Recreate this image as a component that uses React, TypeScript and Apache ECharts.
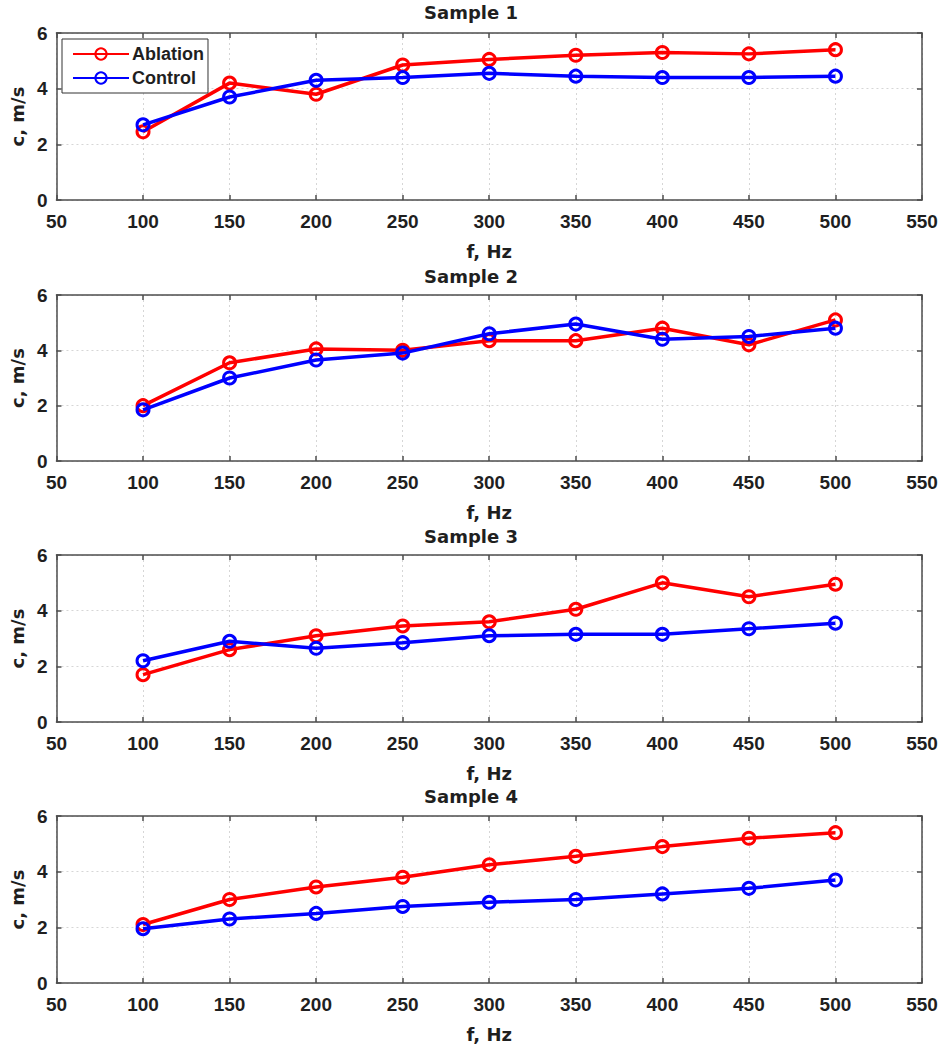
import React, { useEffect, useRef } from "react";
import * as echarts from "echarts";

const freqs = [100, 150, 200, 250, 300, 350, 400, 450, 500];
const sampleTitles = ["Sample 1", "Sample 2", "Sample 3", "Sample 4"];
const ablation1 = [2.45, 4.2, 3.8, 4.85, 5.05, 5.2, 5.3, 5.25, 5.4];
const control1 = [2.7, 3.7, 4.3, 4.4, 4.55, 4.45, 4.4, 4.4, 4.45];
const ablation2 = [2.0, 3.55, 4.05, 4.0, 4.35, 4.35, 4.8, 4.2, 5.1];
const control2 = [1.85, 3.0, 3.65, 3.9, 4.6, 4.95, 4.4, 4.5, 4.8];
const ablation3 = [1.7, 2.6, 3.1, 3.45, 3.6, 4.05, 5.0, 4.5, 4.95];
const control3 = [2.2, 2.9, 2.65, 2.85, 3.1, 3.15, 3.15, 3.35, 3.55];
const ablation4 = [2.1, 3.0, 3.45, 3.8, 4.25, 4.55, 4.9, 5.2, 5.4];
const control4 = [1.95, 2.3, 2.5, 2.75, 2.9, 3.0, 3.2, 3.4, 3.7];
const ablationSets = [ablation1, ablation2, ablation3, ablation4];
const controlSets = [control1, control2, control3, control4];
const xLabelName = "f, Hz";
const yLabelName = "c, m/s";
const seriesNames = ["Ablation", "Control"];

const gridTops = [33, 295, 555, 816];
const gridHeights = [167, 166, 167, 167];
const titleTops = [3, 267, 527, 787];

const AXIS_COLOR = "#4d4d4d";
const TEXT_COLOR = "#1f1f1f";
const TICK_FONT = "'Liberation Sans', Arial, sans-serif";
const NAME_FONT = "'DejaVu Sans', sans-serif";

export default function App() {
  const ref = useRef<HTMLDivElement>(null);
  useEffect(() => {
    if (!ref.current) return;
    const chart = echarts.init(ref.current, undefined, { renderer: "svg" });
    const grids: any[] = [];
    const xAxes: any[] = [];
    const yAxes: any[] = [];
    const series: any[] = [];
    const titles: any[] = [];
    for (let i = 0; i < 4; i++) {
      grids.push({ left: 55, right: 20, top: gridTops[i], height: gridHeights[i], containLabel: false });
      titles.push({
        text: sampleTitles[i],
        left: "center",
        top: titleTops[i],
        padding: 0,
        textStyle: { fontFamily: NAME_FONT, fontWeight: "bold", fontSize: 18, color: TEXT_COLOR },
      });
      xAxes.push({
        type: "value",
        gridIndex: i,
        min: 50,
        max: 550,
        interval: 50,
        position: "bottom",
        name: xLabelName,
        nameLocation: "middle",
        nameGap: 42,
        nameTextStyle: { fontFamily: NAME_FONT, fontWeight: "bold", fontSize: 18, color: TEXT_COLOR },
        axisLine: { show: true, onZero: false, lineStyle: { color: AXIS_COLOR, width: 1.5 } },
        axisTick: { show: true, inside: true, length: 5, lineStyle: { color: AXIS_COLOR, width: 1.5 } },
        axisLabel: { margin: 12, fontFamily: TICK_FONT, fontWeight: "bold", fontSize: 19, color: TEXT_COLOR },
        splitLine: { show: true, lineStyle: { color: "#d6d6d6", type: [2, 3], width: 1 } },
      });
      xAxes.push({
        type: "value",
        gridIndex: i,
        min: 50,
        max: 550,
        interval: 50,
        position: "top",
        axisLine: { show: true, onZero: false, lineStyle: { color: AXIS_COLOR, width: 1.5 } },
        axisTick: { show: true, inside: true, length: 5, lineStyle: { color: AXIS_COLOR, width: 1.5 } },
        axisLabel: { show: false },
        splitLine: { show: false },
      });
      yAxes.push({
        type: "value",
        gridIndex: i,
        min: 0,
        max: 6,
        interval: 2,
        position: "left",
        name: yLabelName,
        nameLocation: "middle",
        nameGap: 29,
        nameTextStyle: { fontFamily: NAME_FONT, fontWeight: "bold", fontSize: 18, color: TEXT_COLOR },
        axisLine: { show: true, onZero: false, lineStyle: { color: AXIS_COLOR, width: 1.5 } },
        axisTick: { show: true, inside: true, length: 5, lineStyle: { color: AXIS_COLOR, width: 1.5 } },
        axisLabel: { margin: 9, fontFamily: TICK_FONT, fontWeight: "bold", fontSize: 19, color: TEXT_COLOR },
        splitLine: { show: true, lineStyle: { color: "#d6d6d6", type: [2, 3], width: 1 } },
      });
      yAxes.push({
        type: "value",
        gridIndex: i,
        min: 0,
        max: 6,
        interval: 2,
        position: "right",
        axisLine: { show: true, onZero: false, lineStyle: { color: AXIS_COLOR, width: 1.5 } },
        axisTick: { show: true, inside: true, length: 5, lineStyle: { color: AXIS_COLOR, width: 1.5 } },
        axisLabel: { show: false },
        splitLine: { show: false },
      });
      const sets = [ablationSets[i], controlSets[i]];
      const colors = ["#ff0000", "#0000ff"];
      for (let s = 0; s < 2; s++) {
        series.push({
          type: "line",
          name: seriesNames[s],
          xAxisIndex: i * 2,
          yAxisIndex: i * 2,
          data: freqs.map((f, k) => [f, sets[s][k]]),
          symbol: "circle",
          symbolSize: 12,
          lineStyle: { color: colors[s], width: 3.5 },
          itemStyle: { color: "rgba(255,255,255,0)", borderColor: colors[s], borderWidth: 3 },
          z: 3 + s,
        });
      }
    }
    chart.setOption({
      animation: false,
      backgroundColor: "#ffffff",
      title: titles,
      grid: grids,
      xAxis: xAxes,
      yAxis: yAxes,
      series,
      legend: {
        data: seriesNames,
        orient: "vertical",
        left: 62,
        top: 39,
        padding: [6, 4, 6, 10],
        itemWidth: 56,
        itemHeight: 14,
        itemGap: 6,
        borderColor: "#333",
        borderWidth: 1,
        backgroundColor: "#ffffff",
        selectedMode: false,
        textStyle: { fontFamily: TICK_FONT, fontWeight: "bold", fontSize: 18, color: TEXT_COLOR, padding: [0, 0, 0, -2] },
      },
    });
    return () => chart.dispose();
  }, []);
  return (
    <div
      ref={ref}
      style={{ position: "absolute", left: 0, top: 0, width: 942, height: 1050 }}
    />
  );
}
